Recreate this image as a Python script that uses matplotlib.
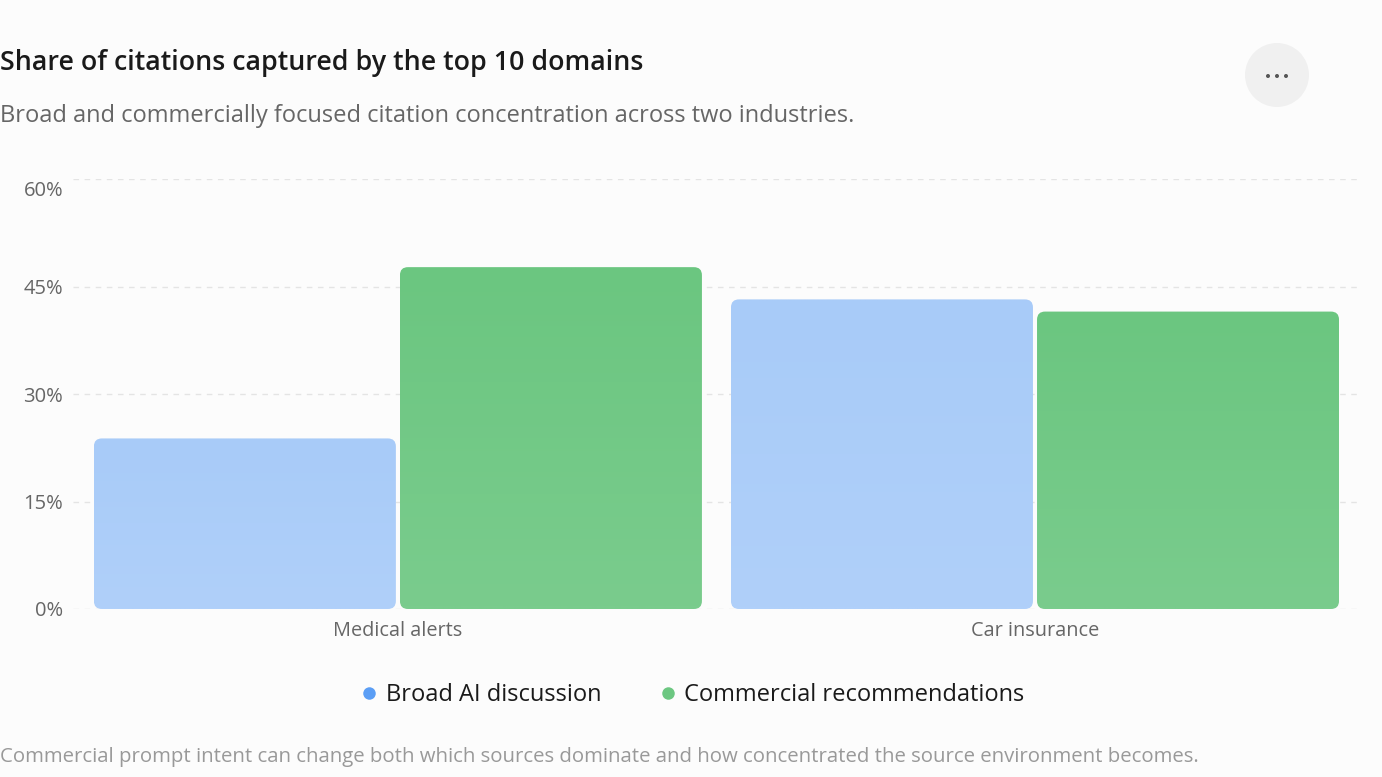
import numpy as np
import matplotlib
matplotlib.use("Agg")
import matplotlib.pyplot as plt
from matplotlib.patches import FancyBboxPatch, Ellipse
from matplotlib.lines import Line2D
from matplotlib.ticker import FuncFormatter
from matplotlib.transforms import ScaledTranslation

categories = ["Medical alerts", "Car insurance"]
series_names = ["Broad AI discussion", "Commercial recommendations"]
broad_ai = [23.8, 43.2]
commercial = [47.7, 41.5]
y_ticks = [0, 15, 30, 45, 60]

plt.rcParams["font.family"] = ["Open Sans", "DejaVu Sans"]

bg = "#fcfcfc"
fig = plt.figure(figsize=(13.82, 7.77), dpi=100, facecolor=bg)
ax = fig.add_axes([73 / 1382, 1 - 609 / 777, (1358 - 73) / 1382, (609 - 179) / 777])
ax.set_facecolor(bg)
ax.set_xlim(-0.51, 1.507)
ax.set_ylim(0, 60)

# gridlines and ticks
ax.set_yticks(y_ticks)
ax.yaxis.set_major_formatter(FuncFormatter(lambda v, p: f"{v:.0f}%"))
ax.grid(axis="y", color="#e4e4e4", linestyle=(0, (4, 4)), linewidth=1)
ax.set_axisbelow(True)
ax.set_xticks(range(len(categories)))
ax.set_xticklabels(categories)
ax.tick_params(length=0, colors="#666666")
ax.tick_params(axis="y", pad=7, labelsize=14.5)
ax.tick_params(axis="x", pad=9, labelsize=14.3)
for s in ax.spines.values():
    s.set_visible(False)

fig.canvas.draw()
# top label sits a little lower than its gridline
top_lbl = ax.get_yticklabels()[-1]
top_lbl.set_transform(top_lbl.get_transform() + ScaledTranslation(0, -9 / 100, fig.dpi_scale_trans))

# px per data unit, for round corners with equal radius
px_x = ax.transData.transform((1, 0))[0] - ax.transData.transform((0, 0))[0]
px_y = ax.transData.transform((0, 1))[1] - ax.transData.transform((0, 0))[1]
aspect = px_x / px_y
r = 8 / px_x

bw = 0.474
gap = 0.0032
colors = [("#a8cbf8", "#b0d0fa"), ("#6bc680", "#7acc8d")]

for k, vals in enumerate([broad_ai, commercial]):
    top_c, bot_c = colors[k]
    for i, v in enumerate(vals):
        x0 = i - bw - gap if k == 0 else i + gap
        patch = FancyBboxPatch((x0, 0), bw, v,
                               boxstyle=f"round,pad=0,rounding_size={r}",
                               mutation_aspect=aspect, linewidth=0,
                               facecolor="none", edgecolor="none")
        ax.add_patch(patch)
        t = np.linspace(0, 1, 64).reshape(-1, 1)
        c1 = np.array(matplotlib.colors.to_rgb(top_c))
        c2 = np.array(matplotlib.colors.to_rgb(bot_c))
        grad = (c1 * (1 - t)[..., None] + c2 * t[..., None]).reshape(64, 1, 3)
        im = ax.imshow(grad, extent=(x0, x0 + bw, 0, v), origin="upper",
                       aspect="auto", zorder=2, interpolation="bilinear")
        im.set_clip_path(patch)
ax.set_xlim(-0.51, 1.507)
ax.set_ylim(0, 60)

# title / subtitle
fig.text(0.0, 1 - 63 / 777, "Share of citations captured by the top 10 domains",
         fontsize=19.3, fontweight="semibold", color="#1a1a1a", va="center", ha="left")
fig.text(0.0, 1 - 116 / 777, "Broad and commercially focused citation concentration across two industries.",
         fontsize=17, color="#666666", va="center", ha="left")

# menu button
fig.patches.append(Ellipse((1277 / 1382, 1 - 75 / 777), 64 / 1382, 64 / 777,
                           transform=fig.transFigure, facecolor="#f0f0f0", edgecolor="none"))
for dx in (-9, 0, 9):
    fig.patches.append(Ellipse(((1277 + dx) / 1382, 1 - 76 / 777), 4 / 1382, 4 / 777,
                               transform=fig.transFigure, facecolor="#555555", edgecolor="none"))

# legend
handles = [Line2D([], [], marker="o", linestyle="none", markersize=9,
                  markerfacecolor=c, markeredgecolor="none")
           for c in ["#5b9ef5", "#6cc781"]]
fig.legend(handles, series_names, loc="center", bbox_to_anchor=(691 / 1382, 1 - 695 / 777),
           ncol=2, frameon=False, fontsize=17, handletextpad=0.2, columnspacing=2.3,
           labelcolor="#1a1a1a", handlelength=1.0)

# footer
fig.text(0.0, 1 - 757 / 777,
         "Commercial prompt intent can change both which sources dominate and how concentrated the source environment becomes.",
         fontsize=14.7, color="#999999", va="center", ha="left")

fig.savefig("out.png", dpi=100, facecolor=bg)
